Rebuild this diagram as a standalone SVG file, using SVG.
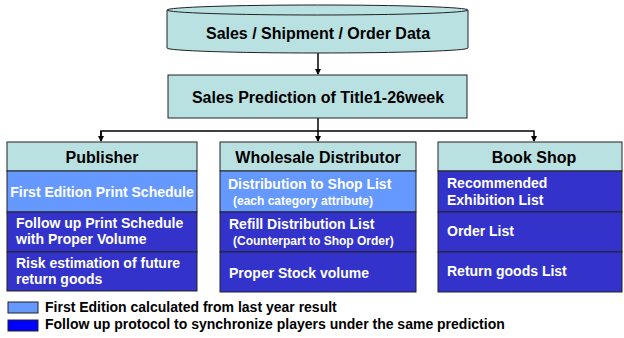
<svg xmlns="http://www.w3.org/2000/svg" width="624" height="338" viewBox="0 0 624 338">
<style>
text{font-family:"Liberation Sans",Arial,sans-serif;font-weight:bold}
.teal{fill:#b9e1e1;stroke:#222;stroke-width:1}
.lb{fill:#6699ff;stroke:#222;stroke-width:1}
.db{fill:#3333cc;stroke:#222;stroke-width:1}
.hd{font-size:16px;fill:#000;text-anchor:middle}
.row{font-size:14px;fill:#fff}
.sub{font-size:12px;fill:#fff}
.lg{font-size:14px;fill:#000}
.ln{fill:none;stroke:#000;stroke-width:1.5}
</style>
<defs>
<marker id="ah" markerWidth="6" markerHeight="6" refX="5" refY="3" orient="auto" markerUnits="userSpaceOnUse">
<path d="M0,0 L6,3 L0,6 z" fill="#000"/>
</marker>
</defs>
<rect width="624" height="338" fill="#fff"/>
<g id="connectors">
<line class="ln" x1="318" y1="53" x2="318" y2="74" marker-end="url(#ah)"/>
<line class="ln" x1="318" y1="118" x2="318" y2="141" marker-end="url(#ah)"/>
<polyline class="ln" points="101,141 101,131 534,131 534,141" marker-end="url(#ah)"/>
<line class="ln" x1="101" y1="131" x2="101" y2="141" marker-end="url(#ah)"/>
</g>
<g id="data">
<path class="teal" d="M167,10 L167,48 A150.5,5 0 0 0 468,48 L468,10"/>
<ellipse class="teal" cx="317.5" cy="10" rx="150.5" ry="5"/>
<text class="hd" x="318" y="39">Sales / Shipment / Order Data</text>
</g>
<g id="prediction">
<rect class="teal" x="168" y="75" width="299" height="43"/>
<text class="hd" x="318" y="103">Sales Prediction of Title1-26week</text>
</g>
<g id="publisher">
<rect class="teal" x="7" y="142" width="190" height="29"/>
<text class="hd" x="102" y="163">Publisher</text>
<rect class="lb" x="7" y="171" width="190" height="41"/>
<text class="row" x="102" y="197" text-anchor="middle">First Edition Print Schedule</text>
<rect class="db" x="7" y="212" width="190" height="40"/>
<text class="row" x="16" y="228">Follow up Print Schedule</text>
<text class="row" x="16" y="244">with Proper Volume</text>
<rect class="db" x="7" y="252" width="190" height="39"/>
<text class="row" x="16" y="268">Risk estimation of future</text>
<text class="row" x="16" y="284">return goods</text>
</g>
<g id="wholesale">
<rect class="teal" x="220" y="142" width="196" height="29"/>
<text class="hd" x="318" y="163">Wholesale Distributor</text>
<rect class="lb" x="220" y="171" width="196" height="41"/>
<text class="row" x="228" y="189">Distribution to Shop List</text>
<text class="sub" x="233" y="205">(each category attribute)</text>
<rect class="db" x="220" y="212" width="196" height="40"/>
<text class="row" x="229" y="229">Refill Distribution List</text>
<text class="sub" x="233" y="245">(Counterpart to  Shop Order)</text>
<rect class="db" x="220" y="252" width="196" height="40"/>
<text class="row" x="229" y="278">Proper Stock volume</text>
</g>
<g id="bookshop">
<rect class="teal" x="438" y="142" width="184" height="29"/>
<text class="hd" x="534" y="163">Book Shop</text>
<rect class="db" x="438" y="171" width="184" height="41"/>
<text class="row" x="447" y="188">Recommended</text>
<text class="row" x="447" y="205">Exhibition List</text>
<rect class="db" x="438" y="212" width="184" height="40"/>
<text class="row" x="447" y="236">Order List</text>
<rect class="db" x="438" y="252" width="184" height="40"/>
<text class="row" x="447" y="276">Return goods List</text>
</g>
<g id="legend">
<rect class="lb" x="8" y="302" width="30" height="11"/>
<text class="lg" x="45" y="312">First Edition calculated from last year result</text>
<rect x="8" y="320" width="30" height="11" fill="#0000ff" stroke="#222" stroke-width="1"/>
<text class="lg" x="45" y="329">Follow up protocol to synchronize players under the same prediction</text>
</g>
</svg>
